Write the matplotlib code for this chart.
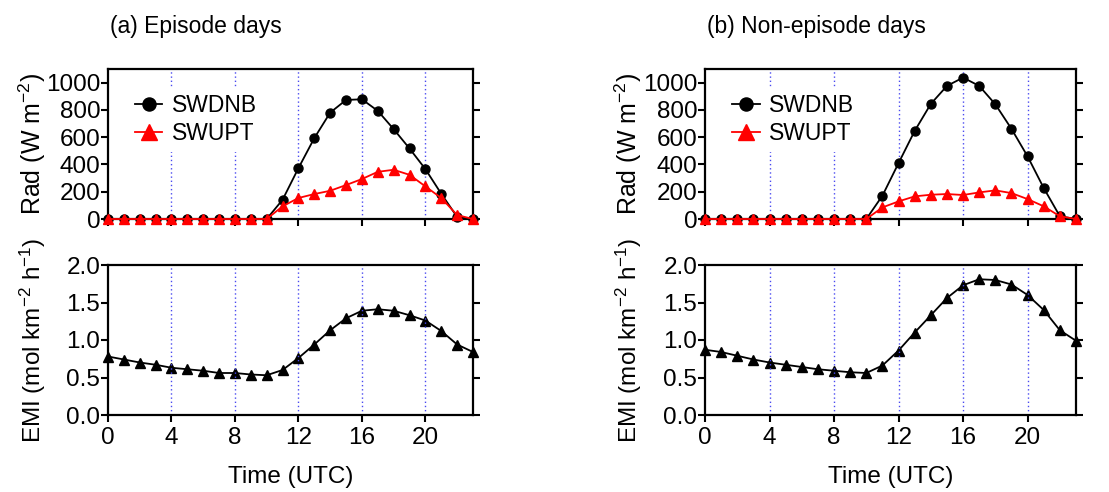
import matplotlib
matplotlib.use("Agg")
import matplotlib.pyplot as plt
import numpy as np

plt.rcParams['font.family'] = ['Liberation Sans', 'DejaVu Sans']
plt.rcParams['mathtext.fontset'] = 'custom'
plt.rcParams['mathtext.rm'] = 'Liberation Sans'
plt.rcParams['mathtext.it'] = 'Liberation Sans'

hours = list(range(24))

# (a) Episode days
swdnb_a = [0, 0, 0, 0, 0, 0, 0, 0, 0, 0, 0, 141, 373, 593, 780, 873, 878, 793, 659, 517, 366, 185, 15, 0]
swupt_a = [0, 0, 0, 0, 0, 0, 0, 0, 0, 0, 0, 93, 154, 183, 207, 249, 293, 346, 361, 324, 239, 154, 29, 0]
emi_a = [0.78, 0.74, 0.70, 0.67, 0.63, 0.61, 0.59, 0.56, 0.56, 0.54, 0.53, 0.60,
         0.76, 0.94, 1.13, 1.29, 1.39, 1.41, 1.39, 1.33, 1.26, 1.12, 0.94, 0.84]

# (b) Non-episode days
swdnb_b = [0, 0, 0, 0, 0, 0, 0, 0, 0, 0, 0, 171, 410, 646, 844, 976, 1037, 976, 841, 661, 459, 227, 20, 0]
swupt_b = [0, 0, 0, 0, 0, 0, 0, 0, 0, 0, 0, 85, 129, 166, 178, 183, 176, 195, 210, 190, 146, 93, 20, 0]
emi_b = [0.87, 0.84, 0.79, 0.74, 0.70, 0.67, 0.64, 0.61, 0.59, 0.57, 0.56, 0.66,
         0.86, 1.10, 1.33, 1.56, 1.73, 1.81, 1.80, 1.74, 1.60, 1.40, 1.13, 0.99]

titles = ['(a) Episode days', '(b) Non-episode days']
xticks = [0, 4, 8, 12, 16, 20]
grid_x = [4, 8, 12, 16, 20]
rad_ticks = [0, 200, 400, 600, 800, 1000]
emi_ticks = [0.0, 0.5, 1.0, 1.5, 2.0]

W, H = 1109, 492
fig = plt.figure(figsize=(W / 100, H / 100), dpi=100)

panels = [
    dict(left=108, right=473, title=titles[0], sw=swdnb_a, su=swupt_a, emi=emi_a),
    dict(left=705, right=1076, title=titles[1], sw=swdnb_b, su=swupt_b, emi=emi_b),
]

TFS = 17.5
LFS = 17.5
GRIDC = '#4a4af0'

def style(ax):
    for s in ax.spines.values():
        s.set_linewidth(1.6)
    ax.tick_params(axis='both', direction='out', length=5, width=1.5,
                   labelsize=TFS, right=True, top=False)
    ax.tick_params(axis='y', pad=0.5)
    ax.tick_params(axis='x', pad=4)
    ax.set_xlim(0, 23)
    ax.set_xticks(xticks)
    for gx in grid_x:
        ax.axvline(gx, color=GRIDC, linestyle=(0, (1, 2)), linewidth=1.0, zorder=0.5)

for p in panels:
    l = p['left'] / W
    w = (p['right'] - p['left']) / W
    ax1 = fig.add_axes([l, 1 - 219 / H, w, 150 / H])
    ax2 = fig.add_axes([l, 1 - 415 / H, w, 150 / H])

    style(ax1)
    ax1.set_ylim(0, 1100)
    ax1.set_yticks(rad_ticks)
    ax1.set_xticklabels([])
    ax1.plot(hours, p['sw'], color='black', lw=1.3, marker='o', ms=6.5,
             label='SWDNB', zorder=3, clip_on=False)
    ax1.plot(hours, p['su'], color='#ff0000', lw=1.3, marker='^', ms=7.5,
             label='SWUPT', zorder=4, clip_on=False)
    ax1.set_ylabel(r'Rad (W m$^{-2}$)', fontsize=18)
    ax1.yaxis.set_label_coords(-0.165, 0.5)
    leg = ax1.legend(loc='upper left', bbox_to_anchor=(0.055, 0.88), fontsize=16.5,
                     frameon=True, facecolor='white', edgecolor='none', framealpha=1,
                     handlelength=1.2, handletextpad=0.4, labelspacing=0.22,
                     borderpad=0.3, markerscale=1.45, borderaxespad=0)
    leg.set_zorder(5)

    style(ax2)
    ax2.set_ylim(0, 2.0)
    ax2.set_yticks(emi_ticks)
    ax2.set_yticklabels(['%.1f' % v for v in emi_ticks])
    ax2.plot(hours, p['emi'], color='black', lw=1.3, marker='^', ms=6.5,
             zorder=0.3, clip_on=False)
    ax2.set_ylabel(r'EMI (mol km$^{-2}$ h$^{-1}$)', fontsize=LFS)
    ax2.yaxis.set_label_coords(-0.165, 0.5)
    ax2.set_xlabel('Time (UTC)', fontsize=LFS, labelpad=12)

    fig.text(p['left'] / W + 0.002, 1 - 27 / H, p['title'], fontsize=16.5,
             ha='left', va='center')

fig.savefig('out.png', dpi=100)
